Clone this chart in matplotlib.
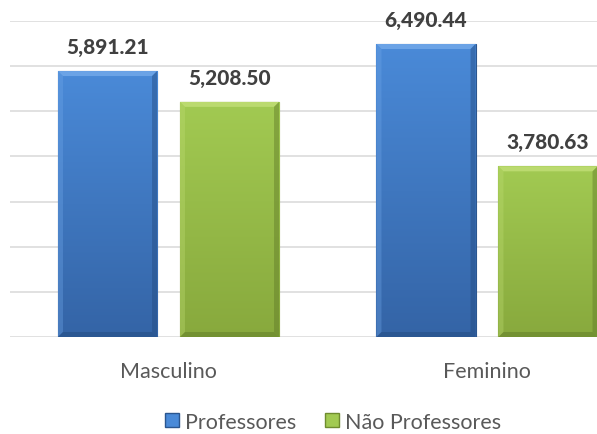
import numpy as np
import matplotlib
matplotlib.use("Agg")
import matplotlib.pyplot as plt
from matplotlib.patches import Patch, Polygon
from matplotlib.colors import LinearSegmentedColormap

categories = ["Masculino", "Feminino"]
series_names = ["Professores", "Não Professores"]
professores = [5891.21, 6490.44]
nao_professores = [5208.50, 3780.63]
value_labels = [["5,891.21", "6,490.44"], ["5,208.50", "3,780.63"]]

FONT = "Lato"
fig = plt.figure(figsize=(5.97, 4.35), dpi=100)
ax = fig.add_axes([10/597, 97/435, 1 - 10/597, 316/435])

x = np.arange(len(categories))
width = 0.311
offset = 0.1915

styles = [
    dict(top="#4a8ad8", bottom="#3464a6", edge="#2b568f", light="#6fa6e8", dark="#244b80"),
    dict(top="#a2ca52", bottom="#88a93d", edge="#6f8c2f", light="#bedc73", dark="#607a28"),
]

all_bars = []
for i, (vals, st) in enumerate(zip([professores, nao_professores], styles)):
    bars = ax.bar(x + (i * 2 - 1) * offset, vals, width, color=st["top"],
                  edgecolor=st["edge"], linewidth=0.8, zorder=3)
    all_bars.append((bars, st))
    for b, lab in zip(bars, value_labels[i]):
        ax.annotate(lab, (b.get_x() + b.get_width()/2, b.get_height()),
                    xytext=(0, 11), textcoords="offset points", ha="center", va="bottom",
                    fontsize=15, fontweight="black", color="#404040", family=FONT,
                    annotation_clip=False)

ax.set_ylim(0, 7000)
ax.set_xlim(-(158.5/318.5), 1 + 110/318.5)
ax.set_yticks(np.arange(0, 7001, 1000))
ax.set_yticklabels([])
ax.grid(axis="y", color="#d9d9d9", linewidth=1.1, zorder=0)
ax.set_axisbelow(True)
for s in ax.spines.values():
    s.set_visible(False)
ax.tick_params(length=0)
ax.set_xticks(x)
ax.set_xticklabels(categories, fontsize=15.5, color="#595959", family=FONT)
ax.tick_params(axis="x", pad=17)

fig.canvas.draw()
# gradient fill + bevel derived from each bar
for bars, st in all_bars:
    cmap = LinearSegmentedColormap.from_list("g", [st["bottom"], st["top"]])
    for b in bars:
        x0, y0 = b.get_x(), 0
        x1, y1 = b.get_x() + b.get_width(), b.get_height()
        grad = np.linspace(0, 1, 256).reshape(-1, 1)
        im = ax.imshow(grad, cmap=cmap, origin="lower", aspect="auto",
                       extent=[x0, x1, y0, y1], zorder=3.1)
        im.set_clip_path(b)
        (dx0, dy0), (dx1, dy1) = ax.transData.transform([(x0, y0), (x1, y1)])
        bv = 5
        polys = [
            ([(dx0, dy1), (dx1, dy1), (dx1 - bv, dy1 - bv), (dx0 + bv, dy1 - bv)], st["light"], 0.9),
            ([(dx0, dy0), (dx0, dy1), (dx0 + bv, dy1 - bv), (dx0 + bv, dy0 + bv)], st["light"], 0.35),
            ([(dx1, dy0), (dx1, dy1), (dx1 - bv, dy1 - bv), (dx1 - bv, dy0 + bv)], st["dark"], 0.45),
            ([(dx0, dy0), (dx1, dy0), (dx1 - bv, dy0 + bv), (dx0 + bv, dy0 + bv)], st["dark"], 0.5),
        ]
        for pts, c, a in polys:
            p = Polygon(pts, closed=True, transform=None, facecolor=c, alpha=a,
                        edgecolor="none", zorder=3.2)
            ax.add_artist(p)
        sh = Polygon([(dx0, dy0), (dx1, dy0), (dx1 - 2, dy0 - 3), (dx0 + 2, dy0 - 3)],
                     closed=True, transform=None, facecolor="#b0b0b0", alpha=0.6,
                     edgecolor="none", zorder=2.9)
        ax.add_artist(sh)

handles = [Patch(facecolor=styles[0]["top"], edgecolor=styles[0]["edge"]),
           Patch(facecolor=styles[1]["top"], edgecolor=styles[1]["edge"])]
fig.legend(handles, series_names, loc="center", bbox_to_anchor=(0.558, 0.028), ncol=2,
           frameon=False, prop=dict(family=FONT, size=15.5), labelcolor="#595959",
           handlelength=0.65, handleheight=0.65, handletextpad=0.3, columnspacing=1.3)

fig.savefig("out.png", dpi=100, facecolor="white")
